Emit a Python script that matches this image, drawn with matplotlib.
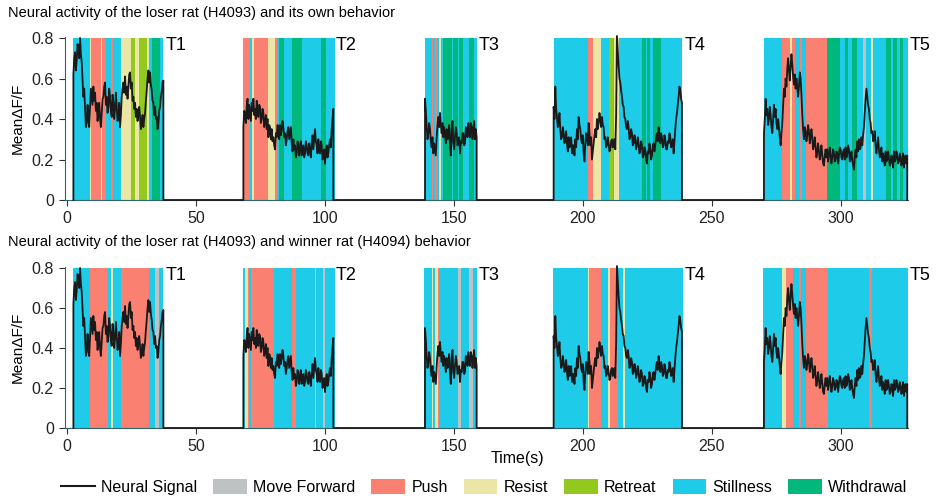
import numpy as np
import matplotlib.pyplot as plt
from matplotlib.patches import Patch
from matplotlib.lines import Line2D

plt.rcParams['font.family'] = ['Liberation Sans', 'DejaVu Sans']

# behaviour colours
colors = {
    'Move Forward': '#bec2c2',
    'Push': '#fa8071',
    'Resist': '#ebe6a5',
    'Retreat': '#93c91e',
    'Stillness': '#1ecbe9',
    'Withdrawal': '#00b87c',
}

# neural signal per trial (evenly sampled between start and end, values in dF/F)
trial_names = ['T1', 'T2', 'T3', 'T4', 'T5']
trial_start = [2.45, 68.35, 138.76, 188.63, 270.16]
trial_end = [37.34, 103.23, 158.78, 238.37, 325.71]

sig_t1 = [0.62, 0.70, 0.73, 0.64, 0.69, 0.77, 0.74, 0.70, 0.80, 0.72, 0.68, 0.60, 0.51, 0.55,
          0.45, 0.36, 0.38, 0.47, 0.40, 0.36, 0.45, 0.55, 0.51, 0.47, 0.56, 0.49, 0.53, 0.44,
          0.48, 0.39, 0.43, 0.48, 0.40, 0.36, 0.43, 0.50, 0.51, 0.56, 0.58, 0.47, 0.51, 0.43,
          0.46, 0.55, 0.51, 0.44, 0.41, 0.52, 0.48, 0.40, 0.45, 0.53, 0.46, 0.39, 0.41, 0.48,
          0.36, 0.42, 0.51, 0.55, 0.58, 0.53, 0.61, 0.52, 0.56, 0.50, 0.56, 0.62, 0.63, 0.55,
          0.58, 0.49, 0.51, 0.45, 0.48, 0.41, 0.45, 0.39, 0.43, 0.46, 0.41, 0.35, 0.38, 0.42,
          0.36, 0.40, 0.43, 0.49, 0.54, 0.60, 0.64, 0.58, 0.63, 0.57, 0.54, 0.49, 0.48, 0.42,
          0.46, 0.40, 0.41, 0.35, 0.38, 0.44, 0.46, 0.51, 0.54, 0.58, 0.59]
sig_t2 = [0.36, 0.44, 0.43, 0.38, 0.46, 0.50, 0.40, 0.47, 0.43, 0.39, 0.48, 0.44, 0.50, 0.42,
          0.45, 0.40, 0.49, 0.43, 0.41, 0.47, 0.46, 0.38, 0.40, 0.45, 0.43, 0.36, 0.38, 0.42,
          0.35, 0.40, 0.31, 0.37, 0.36, 0.30, 0.35, 0.29, 0.31, 0.27, 0.25, 0.33, 0.31, 0.37,
          0.35, 0.30, 0.37, 0.32, 0.35, 0.39, 0.36, 0.31, 0.33, 0.27, 0.30, 0.34, 0.36, 0.30,
          0.33, 0.36, 0.28, 0.24, 0.30, 0.25, 0.27, 0.21, 0.23, 0.29, 0.28, 0.22, 0.25, 0.29,
          0.22, 0.26, 0.27, 0.21, 0.23, 0.29, 0.27, 0.23, 0.22, 0.28, 0.25, 0.21, 0.28, 0.32,
          0.25, 0.30, 0.35, 0.29, 0.27, 0.23, 0.30, 0.25, 0.23, 0.29, 0.27, 0.20, 0.22, 0.25,
          0.18, 0.24, 0.27, 0.21, 0.23, 0.27, 0.30, 0.26, 0.35, 0.40, 0.45]
sig_t3 = [0.50, 0.44, 0.36, 0.30, 0.33, 0.38, 0.35, 0.29, 0.26, 0.31, 0.23, 0.28, 0.25, 0.22,
          0.31, 0.37, 0.41, 0.36, 0.43, 0.37, 0.33, 0.38, 0.31, 0.36, 0.33, 0.28, 0.35, 0.30,
          0.31, 0.37, 0.27, 0.22, 0.35, 0.39, 0.28, 0.25, 0.31, 0.36, 0.33, 0.27, 0.28, 0.31,
          0.23, 0.29, 0.28, 0.33, 0.33, 0.27, 0.28, 0.36, 0.35, 0.31, 0.38, 0.33, 0.31, 0.38,
          0.36, 0.30, 0.35, 0.39, 0.30, 0.35, 0.31]
sig_t4 = [0.46, 0.40, 0.56, 0.45, 0.41, 0.36, 0.38, 0.43, 0.35, 0.30, 0.31, 0.36, 0.33, 0.28,
          0.30, 0.34, 0.28, 0.24, 0.31, 0.26, 0.27, 0.31, 0.23, 0.27, 0.27, 0.22, 0.30, 0.26,
          0.35, 0.30, 0.41, 0.37, 0.35, 0.30, 0.28, 0.32, 0.23, 0.19, 0.28, 0.33, 0.31, 0.27,
          0.38, 0.33, 0.27, 0.31, 0.20, 0.24, 0.28, 0.32, 0.35, 0.31, 0.40, 0.35, 0.38, 0.43,
          0.40, 0.36, 0.41, 0.37, 0.36, 0.30, 0.31, 0.26, 0.27, 0.31, 0.28, 0.24, 0.25, 0.29,
          0.30, 0.26, 0.27, 0.30, 0.25, 0.42, 0.81, 0.73, 0.66, 0.60, 0.58, 0.54, 0.51, 0.47,
          0.46, 0.41, 0.40, 0.36, 0.35, 0.39, 0.36, 0.30, 0.31, 0.35, 0.33, 0.27, 0.28, 0.32,
          0.30, 0.25, 0.27, 0.31, 0.28, 0.23, 0.25, 0.29, 0.27, 0.21, 0.22, 0.26, 0.25, 0.20,
          0.18, 0.24, 0.23, 0.28, 0.25, 0.20, 0.22, 0.27, 0.28, 0.24, 0.27, 0.31, 0.33, 0.29,
          0.36, 0.31, 0.28, 0.33, 0.31, 0.26, 0.27, 0.32, 0.30, 0.25, 0.25, 0.29, 0.28, 0.33,
          0.31, 0.26, 0.27, 0.30, 0.23, 0.29, 0.35, 0.40, 0.43, 0.47, 0.51, 0.56, 0.54, 0.50,
          0.48]
sig_t5 = [0.33, 0.40, 0.50, 0.42, 0.45, 0.37, 0.40, 0.46, 0.42, 0.36, 0.33, 0.40, 0.47, 0.41,
          0.45, 0.38, 0.35, 0.40, 0.36, 0.31, 0.27, 0.33, 0.38, 0.47, 0.55, 0.51, 0.60, 0.56,
          0.65, 0.70, 0.64, 0.59, 0.66, 0.72, 0.67, 0.61, 0.57, 0.62, 0.55, 0.60, 0.56, 0.51,
          0.56, 0.63, 0.60, 0.52, 0.42, 0.35, 0.30, 0.36, 0.34, 0.29, 0.32, 0.37, 0.34, 0.28,
          0.31, 0.35, 0.31, 0.25, 0.27, 0.31, 0.26, 0.21, 0.24, 0.28, 0.24, 0.20, 0.23, 0.27,
          0.22, 0.18, 0.17, 0.22, 0.25, 0.21, 0.25, 0.19, 0.22, 0.26, 0.22, 0.18, 0.21, 0.25,
          0.23, 0.19, 0.20, 0.24, 0.23, 0.18, 0.22, 0.26, 0.25, 0.21, 0.20, 0.24, 0.25, 0.20,
          0.26, 0.21, 0.23, 0.27, 0.25, 0.19, 0.20, 0.24, 0.20, 0.17, 0.15, 0.21, 0.25, 0.21,
          0.29, 0.24, 0.30, 0.25, 0.26, 0.31, 0.27, 0.32, 0.36, 0.43, 0.50, 0.55, 0.51, 0.47,
          0.45, 0.40, 0.38, 0.33, 0.34, 0.29, 0.30, 0.34, 0.27, 0.23, 0.27, 0.31, 0.25, 0.21,
          0.22, 0.26, 0.19, 0.23, 0.21, 0.17, 0.24, 0.19, 0.20, 0.24, 0.21, 0.17, 0.18, 0.22,
          0.21, 0.16, 0.24, 0.19, 0.20, 0.24, 0.22, 0.18, 0.19, 0.23, 0.21, 0.17, 0.19, 0.23,
          0.16, 0.21, 0.22, 0.18, 0.22]
signals = [sig_t1, sig_t2, sig_t3, sig_t4, sig_t5]

# behaviour bouts of the loser rat (its own behaviour): start, end, label
own_start = [2.2, 8.7, 9.3, 13.0, 13.4, 15.0, 16.9, 18.0, 20.9, 24.8, 26.4, 27.8, 30.9, 31.8, 32.9, 36.0,
             68.3, 70.9, 71.8, 72.6, 77.8, 80.6, 81.3, 82.3, 84.2, 87.3, 91.0, 98.4, 100.3,
             138.8, 141.6, 142.0, 142.8, 143.5, 144.2, 144.8, 145.6, 149.3, 149.7, 151.4, 151.8, 153.6, 155.7, 157.9,
             188.6, 201.8, 204.0, 206.9, 210.1, 211.8, 212.1, 214.1, 222.8, 224.4, 224.9, 226.0, 227.0, 230.1,
             270.2, 277.0, 280.2, 281.1, 282.2, 284.1, 285.0, 286.4, 294.5, 299.6, 301.6, 302.8, 304.1, 306.1,
             308.4, 309.9, 311.6, 312.3, 317.4, 319.4, 320.3, 321.6, 322.9, 324.2]
own_end = [8.7, 9.3, 13.0, 13.4, 15.0, 16.9, 18.0, 20.9, 24.8, 26.4, 27.8, 30.9, 31.8, 32.9, 36.0, 37.3,
           70.9, 71.8, 72.6, 77.8, 80.6, 81.3, 82.3, 84.2, 87.3, 91.0, 98.4, 100.3, 103.9,
           141.6, 142.0, 142.8, 143.5, 144.2, 144.8, 145.6, 149.3, 149.7, 151.4, 151.8, 153.6, 155.7, 157.9, 159.0,
           201.8, 204.0, 206.9, 210.1, 211.8, 212.1, 214.1, 222.8, 224.4, 224.9, 226.0, 227.0, 230.1, 238.4,
           277.0, 280.2, 281.1, 282.2, 284.1, 285.0, 286.4, 294.5, 299.6, 301.6, 302.8, 304.1, 306.1, 308.4,
           309.9, 311.6, 312.3, 317.4, 319.4, 320.3, 321.6, 322.9, 324.2, 325.9]
own_beh = ['Stillness', 'Resist', 'Push', 'Resist', 'Push', 'Stillness', 'Push', 'Stillness', 'Resist',
           'Retreat', 'Resist', 'Retreat', 'Resist', 'Stillness', 'Withdrawal', 'Stillness',
           'Push', 'Stillness', 'Resist', 'Push', 'Resist', 'Push', 'Stillness', 'Withdrawal', 'Stillness',
           'Withdrawal', 'Stillness', 'Withdrawal', 'Stillness',
           'Stillness', 'Push', 'Stillness', 'Push', 'Stillness', 'Resist', 'Stillness', 'Withdrawal',
           'Stillness', 'Withdrawal', 'Stillness', 'Withdrawal', 'Stillness', 'Withdrawal', 'Stillness',
           'Stillness', 'Push', 'Resist', 'Stillness', 'Retreat', 'Stillness', 'Resist', 'Stillness',
           'Withdrawal', 'Stillness', 'Withdrawal', 'Stillness', 'Withdrawal', 'Stillness',
           'Stillness', 'Push', 'Resist', 'Push', 'Stillness', 'Push', 'Stillness', 'Push', 'Withdrawal',
           'Stillness', 'Withdrawal', 'Stillness', 'Withdrawal', 'Stillness', 'Move Forward', 'Stillness',
           'Resist', 'Stillness', 'Withdrawal', 'Stillness', 'Withdrawal', 'Stillness', 'Withdrawal', 'Stillness']

# behaviour bouts of the winner rat
win_start = [2.2, 8.7, 15.8, 17.1, 17.7, 20.9, 31.9, 34.1, 35.7,
             68.3, 69.0, 70.0, 70.5, 71.3, 80.2, 87.3, 88.8, 96.1, 96.6, 99.3, 99.9,
             138.2, 141.4, 141.7, 142.5, 143.9, 144.3, 151.7, 152.6, 155.8, 157.2,
             188.5, 201.8, 202.3, 206.9, 209.8, 210.5, 213.4, 215.4, 216.3,
             269.9, 277.0, 278.7, 281.5, 283.7, 284.4, 286.3, 294.8, 310.8, 311.9]
win_end = [8.7, 15.8, 17.1, 17.7, 20.9, 31.9, 34.1, 35.7, 37.3,
           69.0, 70.0, 70.5, 71.3, 80.2, 87.3, 88.8, 96.1, 96.6, 99.3, 99.9, 103.7,
           141.4, 141.7, 142.5, 143.9, 144.3, 151.7, 152.6, 155.8, 157.2, 158.9,
           201.8, 202.3, 206.9, 209.8, 210.5, 213.4, 215.4, 216.3, 238.6,
           277.0, 278.7, 281.5, 283.7, 284.4, 286.3, 294.8, 310.8, 311.9, 326.0]
win_beh = ['Stillness', 'Push', 'Stillness', 'Resist', 'Stillness', 'Push', 'Stillness', 'Move Forward', 'Stillness',
           'Stillness', 'Resist', 'Push', 'Stillness', 'Push', 'Stillness', 'Push', 'Stillness', 'Move Forward',
           'Stillness', 'Move Forward', 'Stillness',
           'Stillness', 'Resist', 'Stillness', 'Resist', 'Push', 'Stillness', 'Move Forward', 'Stillness',
           'Move Forward', 'Stillness',
           'Stillness', 'Resist', 'Push', 'Stillness', 'Resist', 'Push', 'Stillness', 'Resist', 'Stillness',
           'Stillness', 'Resist', 'Push', 'Stillness', 'Push', 'Stillness', 'Push', 'Stillness', 'Push', 'Stillness']

titles = ['Neural activity of the loser rat (H4093) and its own behavior',
          'Neural activity of the loser rat (H4093) and winner rat (H4094) behavior']

# full trace: signal drops to zero between trials
tt = []
yy = []
for s, e, v in zip(trial_start, trial_end, signals):
    tt += [s] + list(np.linspace(s, e, len(v))) + [e]
    yy += [0] + v + [0]

fig = plt.figure(figsize=(9.37, 4.96), dpi=100)
ax_top = fig.add_axes([65/937, 1-200/496, 843/937, 163/496])
ax_bot = fig.add_axes([65/937, 1-428/496, 843/937, 161/496])

for ax, st, en, beh, title, ty in [(ax_top, own_start, own_end, own_beh, titles[0], 1-13/496),
                                   (ax_bot, win_start, win_end, win_beh, titles[1], 1-242/496)]:
    for s, e, b in zip(st, en, beh):
        ax.fill_between([s, e], 0, 0.8, color=colors[b], linewidth=0)
    ax.plot(tt, yy, color='#1a1a1a', lw=1.3, clip_on=False, zorder=3)
    for name, e in zip(trial_names, trial_end):
        ax.text(e + 0.9, 0.805, name, fontsize=13, va='top', ha='left', clip_on=False)
    ax.set_xlim(-0.8, 326)
    ax.set_ylim(0, 0.805)
    ax.set_yticks([0, 0.2, 0.4, 0.6, 0.8])
    ax.set_yticklabels(['0', '0.2', '0.4', '0.6', '0.8'])
    ax.set_xticks([0, 50, 100, 150, 200, 250, 300])
    ax.spines['top'].set_visible(False)
    ax.spines['right'].set_visible(False)
    for sp in ['left', 'bottom']:
        ax.spines[sp].set_color('#2f6470')
    ax.tick_params(labelsize=11.5, length=4, pad=4, colors='#333333', labelcolor='#222222')
    ax.set_ylabel('Mean\u0394F/F', fontsize=11, labelpad=5)
    fig.text(8/937, ty, title, fontsize=10.5, ha='left', va='center')

fig.text(517/937, 1-458/496, 'Time(s)', fontsize=11.5, ha='center', va='center')

handles = [Line2D([0], [0], color='#1a1a1a', lw=1.5)]
labels = ['Neural Signal']
for k in ['Move Forward', 'Push', 'Resist', 'Retreat', 'Stillness', 'Withdrawal']:
    handles.append(Patch(facecolor=colors[k], edgecolor='none'))
    labels.append(k)
fig.legend(handles, labels, loc='center', bbox_to_anchor=(0.517, 1-487/496), ncol=7, frameon=False,
           fontsize=11.5, handlelength=2.1, handleheight=1.1, handletextpad=0.4, columnspacing=1.0)

fig.savefig('out.png', dpi=100)
